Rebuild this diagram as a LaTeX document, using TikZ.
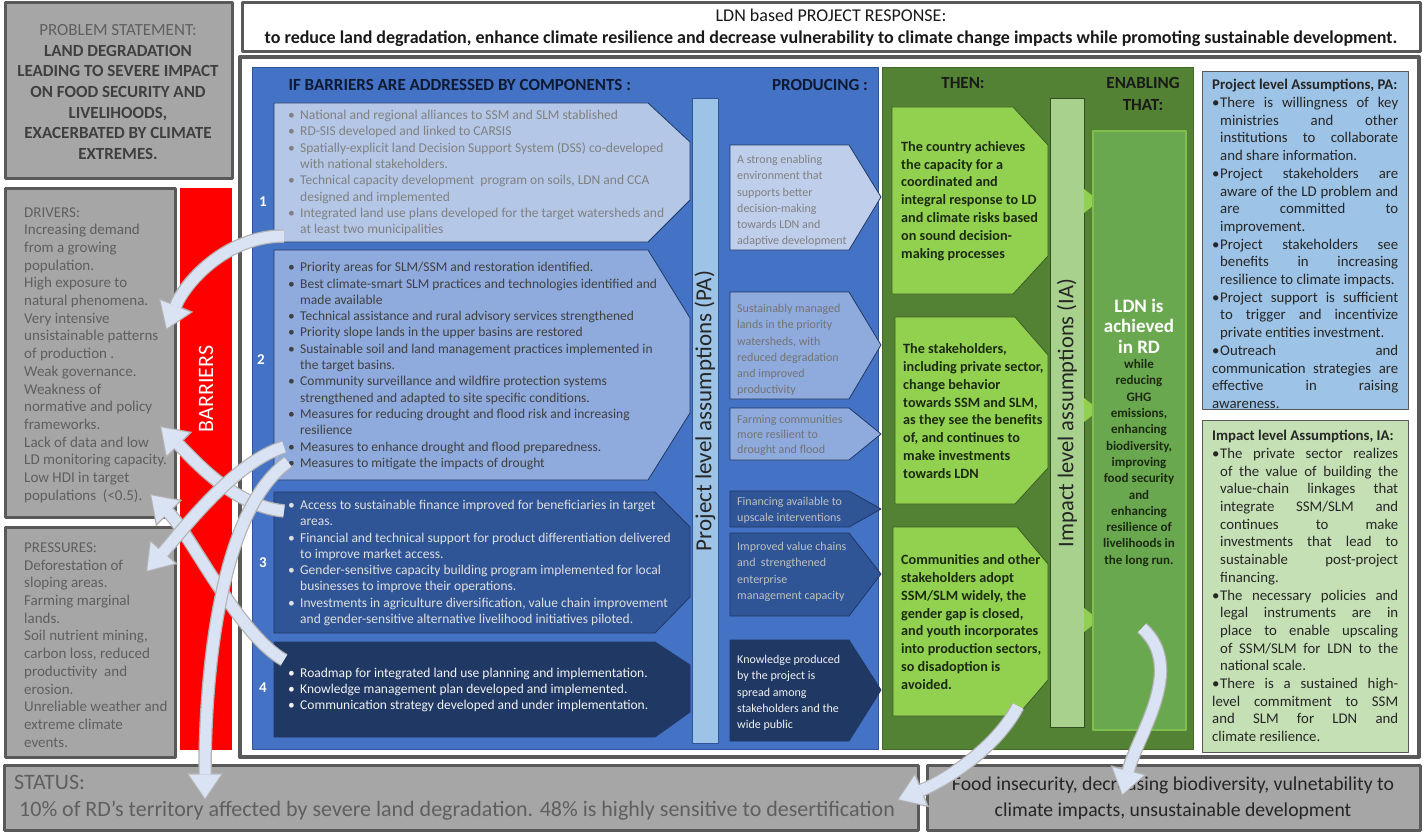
\documentclass[tikz,border=0pt]{standalone}
\usepackage{fontspec}
\setmainfont{Carlito}
\usetikzlibrary{arrows.meta}

\definecolor{frame}{HTML}{595959}
\definecolor{greyfill}{HTML}{A6A6A6}
\definecolor{greyink}{HTML}{5F5F5F}
\definecolor{darkink}{HTML}{3F3F3F}
\definecolor{panelblue}{HTML}{4472C4}
\definecolor{compa}{HTML}{B4C7E7}
\definecolor{compb}{HTML}{8FAADC}
\definecolor{compc}{HTML}{2F5597}
\definecolor{compd}{HTML}{1F3864}
\definecolor{pabar}{HTML}{9DC3E6}
\definecolor{panelgreen}{HTML}{548235}
\definecolor{thenfill}{HTML}{92D050}
\definecolor{thenink}{HTML}{1C2A12}
\definecolor{iabar}{HTML}{A9D18E}
\definecolor{ldnfill}{HTML}{6AA84F}
\definecolor{pafill}{HTML}{9DC3E6}
\definecolor{iafill}{HTML}{C5E0B4}
\definecolor{arrowfill}{HTML}{DAE3F3}
\definecolor{headink}{HTML}{0E1A33}
\definecolor{barred}{HTML}{FF0000}

\setlength{\parindent}{0pt}
\tolerance=10000
\hbadness=10000

\newcommand{\bitem}{\makebox[12pt][l]{\textbullet}}
\newcommand{\bcont}{\hspace*{12pt}}
\newcommand{\aitem}{\par\hangindent=8pt\hangafter=1\makebox[8pt][l]{\textbullet}}
\newcommand{\bluearrow}[1]{\draw[arrowedge] #1; \draw[arrowbody] #1;}

\tikzset{
  greybox/.style={draw=frame, line width=3pt, fill=greyfill},
  sidetext/.style={anchor=west, align=left, inner sep=0pt, text=greyink, font=\fontsize{15}{17.7}\selectfont},
  compbox/.style={draw=compd, line width=0.8pt},
  comptext/.style={anchor=west, align=left, inner sep=0pt, font=\fontsize{13.5}{16.3}\selectfont},
  outtext/.style={anchor=west, align=left, inner sep=0pt, font=\fontsize{12}{16.3}\selectfont},
  thenbox/.style={fill=thenfill, draw=panelgreen!70!black, line width=0.8pt},
  thentext/.style={anchor=west, align=left, inner sep=0pt, text=thenink, font=\bfseries\fontsize{14.2}{17.8}\selectfont},
  numlabel/.style={text=white, font=\bfseries\fontsize{15}{15}\selectfont},
  colhead/.style={text=headink, font=\bfseries\fontsize{17}{22.5}\selectfont},
  barlabel/.style={rotate=90, text=black!85},
  asstext/.style={anchor=west, inner sep=0pt, text width=186pt, align=justify, text=black!85, font=\fontsize{14.8}{17.7}\selectfont},
  arrowedge/.style={line width=13.5pt, draw=gray!60, -{Triangle[width=37pt,length=27pt,line width=0.1pt]}},
  arrowbody/.style={line width=11pt, draw=arrowfill, -{Triangle[width=32pt,length=23.5pt,line width=0.1pt]}, shorten >=2pt},
}

\begin{document}
\begin{tikzpicture}[x=1pt, y=-1pt, line join=round, >=Triangle]
\useasboundingbox (0,0) rectangle (1423,832);

% left column: problem, drivers, barriers, pressures
\draw[greybox] (5,3) rectangle (232,178);
\node[align=center, text=darkink, font=\bfseries\fontsize{17}{20.6}\selectfont] (problem) at (118,92)
  {\textcolor{greyink}{\mdseries PROBLEM STATEMENT:}\\LAND DEGRADATION\\LEADING TO SEVERE IMPACT\\ON FOOD SECURITY AND\\LIVELIHOODS,\\EXACERBATED BY CLIMATE\\EXTREMES.};

\draw[greybox] (5,188) rectangle (175,517);
\node[sidetext] (drivers) at (24,355) {DRIVERS:\\Increasing demand\\from a growing\\population.\\High exposure to\\natural phenomena.\\Very intensive\\unsistainable patterns\\of production .\\Weak governance.\\Weakness of\\normative and policy\\frameworks.\\Lack of data and low\\LD monitoring capacity.\\Low HDI in target\\populations~ (<0.5).};

\fill[barred] (180,188) rectangle (232,750);
\node[rotate=90, text=white, font=\fontsize{22}{22}\selectfont] (barriers) at (206,389) {BARRIERS};

\draw[greybox] (5,527) rectangle (175,757);
\node[sidetext] (pressures) at (24,645) {PRESSURES:\\Deforestation of\\sloping areas.\\Farming marginal\\lands.\\Soil nutrient mining,\\carbon loss, reduced\\productivity~ and\\erosion.\\Unreliable weather and\\extreme climate\\events.};

% project response header and frame
\draw[frame, line width=3pt, fill=white] (242,3) rectangle (1420,52);
\node[align=center, text=black!90, font=\fontsize{18}{22}\selectfont] (header) at (831,28)
  {LDN based PROJECT RESPONSE:\\\textbf{to reduce land degradation, enhance climate resilience and decrease vulnerability to climate change impacts while promoting sustainable development.}};
\draw[frame, line width=4pt] (240,57) rectangle (1419,757);

% components
\filldraw[fill=panelblue, draw=compc, line width=1pt] (252,68) rectangle (878,749);
\node[colhead, anchor=west] (comphead) at (285,85) {IF BARRIERS ARE ADDRESSED BY COMPONENTS :};
\node[colhead] (prodhead) at (820,85) {PRODUCING :};

\draw[compbox, fill=compa] (274,103) -- (648,103) -- (690,142) -- (690,200) -- (648,242) -- (274,242) -- cycle;
\node[comptext, text=black!50] (c1) at (288,173) {\bitem National and regional alliances to SSM and SLM stablished\\\bitem RD-SIS developed and linked to CARSIS\\\bitem Spatially-explicit land Decision Support System (DSS) co-developed\\\bcont with national stakeholders.\\\bitem Technical capacity development~ program on soils, LDN and CCA\\\bcont designed and implemented\\\bitem Integrated land use plans developed for the target watersheds and\\\bcont at least two municipalities};
\node[numlabel] (n1) at (263,202) {1};

\draw[compbox, fill=compb] (274,250) -- (648,250) -- (690,318) -- (690,413) -- (648,480) -- (274,480) -- cycle;
\node[comptext, text=black!75] (c2) at (288,366) {\bitem Priority areas for SLM/SSM and restoration identified.\\\bitem Best climate-smart SLM practices and technologies identified and\\\bcont made available\\\bitem Technical assistance and rural advisory services strengthened\\\bitem Priority slope lands in the upper basins are restored\\\bitem Sustainable soil and land management practices implemented in\\\bcont the target basins.\\\bitem Community surveillance and wildfire protection systems\\\bcont strengthened and adapted to site specific conditions.\\\bitem Measures for reducing drought and flood risk and increasing\\\bcont resilience\\\bitem Measures to enhance drought and flood preparedness.\\\bitem Measures to mitigate the impacts of drought};
\node[numlabel] (n2) at (261,360) {2};

\draw[compbox, fill=compc] (274,492) -- (655,492) -- (690,527) -- (690,597) -- (655,633) -- (274,633) -- cycle;
\node[comptext, text=black!12] (c3) at (288,563) {\bitem Access to sustainable finance improved for beneficiaries in target\\\bcont areas.\\\bitem Financial and technical support for product differentiation delivered\\\bcont to improve market access.\\\bitem Gender-sensitive capacity building program implemented for local\\\bcont businesses to improve their operations.\\\bitem Investments in agriculture diversification, value chain improvement\\\bcont and gender-sensitive alternative livelihood initiatives piloted.};
\node[numlabel] (n3) at (263,563) {3};

\draw[compbox, fill=compd] (274,642) -- (655,642) -- (690,665) -- (690,712) -- (655,737) -- (274,737) -- cycle;
\node[comptext, text=black!5] (c4) at (288,690) {\bitem Roadmap for integrated land use planning and implementation.\\\bitem Knowledge management plan developed and implemented.\\\bitem Communication strategy developed and under implementation.};
\node[numlabel] (n4) at (263,688) {4};

\filldraw[fill=pabar, draw=compc, line width=0.8pt] (692,98) rectangle (718,743);
\node[barlabel, font=\fontsize{23}{23}\selectfont] (patext) at (705,411) {Project level assumptions (PA)};

% outputs
\draw[compbox, fill=compa!85!white] (730,145) -- (849,145) -- (881,197) -- (849,250) -- (730,250) -- cycle;
\node[outtext, text=black!50] (p1) at (737,201) {A strong enabling\\environment that\\supports better\\decision-making\\towards LDN and\\adaptive development};
\draw[compbox, fill=compb] (730,292) -- (849,292) -- (881,345) -- (849,399) -- (730,399) -- cycle;
\node[outtext, text=black!55] (p2) at (737,350) {Sustainably managed\\lands in the priority\\watersheds, with\\reduced degradation\\and improved\\productivity};
\draw[compbox, fill=compb] (730,408) -- (849,408) -- (881,434) -- (849,460) -- (730,460) -- cycle;
\node[outtext, text=black!55, font=\fontsize{12}{15}\selectfont] (p3) at (737,435) {Farming communities\\more resilient to\\drought and flood};
\draw[compbox, fill=compc] (730,491) -- (849,491) -- (881,509) -- (849,527) -- (730,527) -- cycle;
\node[outtext, text=black!25] (p4) at (737,510) {Financing available to\\upscale interventions};
\draw[compbox, fill=compc] (730,533) -- (849,533) -- (881,574) -- (849,616) -- (730,616) -- cycle;
\node[outtext, text=black!25] (p5) at (737,572) {Improved value chains\\and~ strengthened\\enterprise\\management capacity};
\draw[compbox, fill=compd] (730,640) -- (849,640) -- (881,690) -- (849,741) -- (730,741) -- cycle;
\node[outtext, text=black!5] (p6) at (737,693) {Knowledge produced\\by the project is\\spread among\\stakeholders and the\\wide public};

% outcomes and impact
\filldraw[fill=panelgreen, draw=panelgreen!80!black, line width=1pt] (882,68) rectangle (1193,749);
\node[colhead, text=black!90] (thenhead) at (963,83) {THEN:};
\node[colhead, text=black!90, align=center] (enablehead) at (1143,94) {ENABLING\\THAT:};

\draw[thenbox] (892,107) -- (1013,107) -- (1048,145) -- (1048,256) -- (1013,294) -- (892,294) -- cycle;
\node[thentext] (t1) at (901,201) {The country achieves\\the capacity for a\\coordinated and\\integral response to LD\\and climate risks based\\on sound decision-\\making processes};
\draw[thenbox] (895,317) -- (1015,317) -- (1048,355) -- (1048,468) -- (1015,504) -- (895,504) -- cycle;
\node[thentext] (t2) at (903,411) {The stakeholders,\\including private sector,\\change behavior\\towards SSM and SLM,\\as they see the benefits\\of, and continues to\\make investments\\towards LDN};
\draw[thenbox] (893,527) -- (1017,527) -- (1048,564) -- (1048,680) -- (1017,716) -- (893,716) -- cycle;
\node[thentext] (t3) at (901,622) {Communities and other\\stakeholders adopt\\SSM/SLM widely, the\\gender gap is closed,\\and youth incorporates\\into production sectors,\\so disadoption is\\avoided.};

\filldraw[fill=iabar, draw=panelgreen!60!black, line width=0.8pt] (1050,98) rectangle (1084,727);
\node[barlabel, font=\fontsize{22.5}{23}\selectfont] (iatext) at (1067,413) {Impact level assumptions (IA)};
\fill[thenfill] (1084,189) -- (1099,201) -- (1084,213) -- cycle;
\fill[thenfill] (1084,398) -- (1099,410) -- (1084,422) -- cycle;
\fill[thenfill] (1084,608) -- (1099,620) -- (1084,632) -- cycle;

\filldraw[fill=ldnfill, draw=thenfill!55!ldnfill, line width=1.5pt] (1093,131) rectangle (1186,730);
\node[align=center, text=white, font=\bfseries\fontsize{19}{20.5}\selectfont] (ldnhead) at (1139,326) {LDN is\\achieved\\in RD};
\node[align=center, text=thenink, font=\bfseries\fontsize{13}{16.3}\selectfont] (ldnbody) at (1139,463) {while\\reducing\\GHG\\emissions,\\enhancing\\biodiversity,\\improving\\food security\\and\\enhancing\\resilience of\\livelihoods in\\the long run.};

% assumptions
\draw[fill=pafill, draw=frame, line width=1pt] (1202,72) rectangle (1408,409);
\node[asstext] (paass) at (1212,244) {\textbf{Project level Assumptions, PA:}
\aitem There is willingness of key\linebreak ministries and other\linebreak institutions to collaborate\linebreak and share information.
\aitem Project stakeholders are\linebreak aware of the LD problem and\linebreak are committed to\linebreak improvement.
\aitem Project stakeholders see\linebreak benefits in increasing\linebreak resilience to climate impacts.
\aitem Project support is sufficient\linebreak to trigger and incentivize\linebreak private entities investment.
\aitem Outreach and\linebreak communication strategies are\linebreak effective in raising\linebreak awareness.};

\draw[fill=iafill, draw=frame, line width=1pt] (1202,420) rectangle (1408,752);
\node[asstext] (iaass) at (1212,586) {\textbf{Impact level Assumptions, IA:}
\aitem The private sector realizes\linebreak of the value of building the\linebreak value-chain linkages that\linebreak integrate SSM/SLM and\linebreak continues to make\linebreak investments that lead to\linebreak sustainable post-project\linebreak financing.
\aitem The necessary policies and\linebreak legal instruments are in\linebreak place to enable upscaling\linebreak of SSM/SLM for LDN to the\linebreak national scale.
\aitem There is a sustained high-\linebreak level commitment to SSM\linebreak and SLM for LDN and\linebreak climate resilience.};

% status and consequences
\draw[greybox] (4,765) rectangle (918,830);
\node[anchor=west, align=left, inner sep=0pt, text=greyink, font=\fontsize{22}{27}\selectfont] (status) at (14,798) {STATUS:\\\hspace*{5pt}10\% of RD’s territory affected by severe land degradation. 48\% is highly sensitive to desertification};
\draw[greybox] (927,765) rectangle (1420,830);
\node[align=center, text=black!85, font=\fontsize{19.7}{26}\selectfont] (outcome) at (1173,798) {Food insecurity, decreasing biodiversity, vulnetability to\\climate impacts, unsustainable development};

% curved arrows
\coordinate (c1tail) at (284,236);
\coordinate (drvtip) at (166,330);
\coordinate (c2taila) at (284,447);
\coordinate (c2tailb) at (288,462);
\coordinate (c3tail) at (284,511);
\coordinate (c4tail) at (284,660);
\coordinate (drvtipb) at (160,426);
\coordinate (drvtipc) at (150,494);
\coordinate (prstip) at (146,572);
\coordinate (statustip) at (205,800);
\coordinate (t3tail) at (1018,706);
\coordinate (statustipb) at (897,800);
\coordinate (ldntail) at (1142,628);
\coordinate (outcometip) at (1122,796);

\bluearrow{(c1tail) .. controls +(-60,0) and +(18,-45) .. (drvtip)}
\bluearrow{(c3tail) .. controls +(-50,-5) and +(35,35) .. (drvtipb)}
\bluearrow{(c4tail) .. controls +(-45,-25) and +(40,40) .. (drvtipc)}
\bluearrow{(c2taila) .. controls +(-50,15) and +(35,-40) .. (prstip)}
\bluearrow{(c2tailb) .. controls +(-70,50) and +(0,-120) .. (statustip)}
\bluearrow{(t3tail) .. controls +(-20,40) and +(50,-20) .. (statustipb)}
\bluearrow{(ldntail) .. controls +(45,40) and +(15,-60) .. (outcometip)}
\end{tikzpicture}
\end{document}
